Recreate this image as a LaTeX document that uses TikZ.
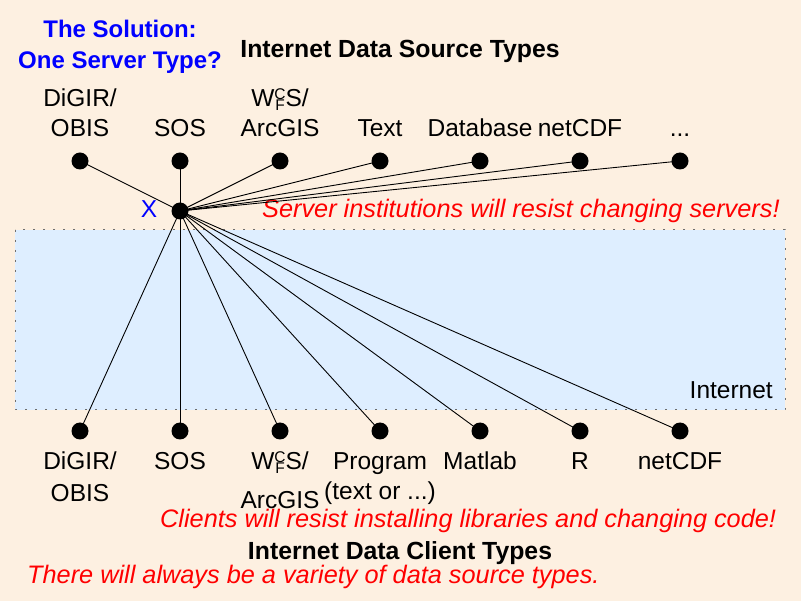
\documentclass[tikz,border=0pt]{standalone}
\usepackage{fontspec}
\setmainfont{Liberation Sans}
\definecolor{bgc}{RGB}{253,240,225}
\definecolor{netc}{RGB}{222,238,255}
\definecolor{bordc}{RGB}{110,110,110}
\newcommand{\fs}[1]{\fontsize{#1}{#1}\selectfont}
\newcommand{\wcfs}{W\raisebox{-0.16em}{\fs{15.5}\shortstack{C\\[-2.5pt]F}}S/}
\begin{document}
\begin{tikzpicture}[x=1pt,y=-1pt,
  dot/.style={circle,fill=black,inner sep=0pt,minimum size=17pt},
  lbl/.style={anchor=base,inner sep=0pt,font=\fs{24.5}},
  ttl/.style={anchor=base,inner sep=0pt,font=\fs{24.8}\bfseries},
  blu/.style={anchor=base,inner sep=0pt,font=\fs{24}\bfseries,text=blue},
  warn/.style={anchor=base west,inner sep=0pt,font=\fs{25.3}\itshape,text=red},
  link/.style={draw=black,line width=0.9pt}]
\fill[bgc] (0,0) rectangle (801,601);
\useasboundingbox (0,0) rectangle (801,601);
\fill[netc] (15,230) rectangle (785,410);
\draw[draw=bordc,dash pattern=on 2pt off 8pt,line width=1pt] (15,230) rectangle (785,410);
\node[lbl,anchor=base east] (inet) at (773,399) {Internet};
% titles
\node[blu] (t1) at (120,38) {The Solution:};
\node[blu] (t2) at (120,69) {One Server Type?};
\node[ttl] (src) at (400,58) {Internet Data Source Types};
% dots
\foreach \i/\x in {1/80,2/180,3/280,4/380,5/480,6/580,7/680}{
  \node[dot] (s\i) at (\x,161) {};
  \node[dot] (c\i) at (\x,431) {};
}
\node[dot] (hub) at (180,211) {};
\node[anchor=base,inner sep=0pt,font=\fs{24.5},text=blue] (xl) at (149,218) {X};
% top labels
\node[lbl] (sl1a) at (80,107) {DiGIR/};
\node[lbl] (sl1b) at (80,137) {OBIS};
\node[lbl] (sl2) at (180,137) {SOS};
\node[lbl] (sl3a) at (280,107) {\wcfs};
\node[lbl] (sl3b) at (280,137) {ArcGIS};
\node[lbl] (sl4) at (380,137) {Text};
\node[lbl] (sl5) at (480,137) {Database};
\node[lbl] (sl6) at (580,137) {netCDF};
\node[lbl] (sl7) at (680,137) {...};
% bottom labels
\node[lbl] (cl1a) at (80,470) {DiGIR/};
\node[lbl] (cl1b) at (80,501) {OBIS};
\node[lbl] (cl2) at (180,470) {SOS};
\node[lbl] (cl3a) at (280,470) {\wcfs};
\node[lbl] (cl3b) at (280,508) {ArcGIS};
\node[lbl] (cl4a) at (380,470) {Program};
\node[lbl] (cl4b) at (380,500) {(text or ...)};
\node[lbl] (cl5) at (480,470) {Matlab};
\node[lbl] (cl6) at (580,470) {R};
\node[lbl] (cl7) at (680,470) {netCDF};
% messages
\node[warn] (w1) at (262,218) {Server institutions will resist changing servers!};
\node[warn] (w2) at (160,528) {Clients will resist installing libraries and changing code!};
\node[ttl] (cli) at (400,559) {Internet Data Client Types};
\node[warn] (w3) at (27,583) {There will always be a variety of data source types.};
% links
\foreach \i in {1,...,7}{
  \draw[link] (hub.center) -- (s\i.center);
  \draw[link] (hub.center) -- (c\i.center);
}
\end{tikzpicture}
\end{document}
